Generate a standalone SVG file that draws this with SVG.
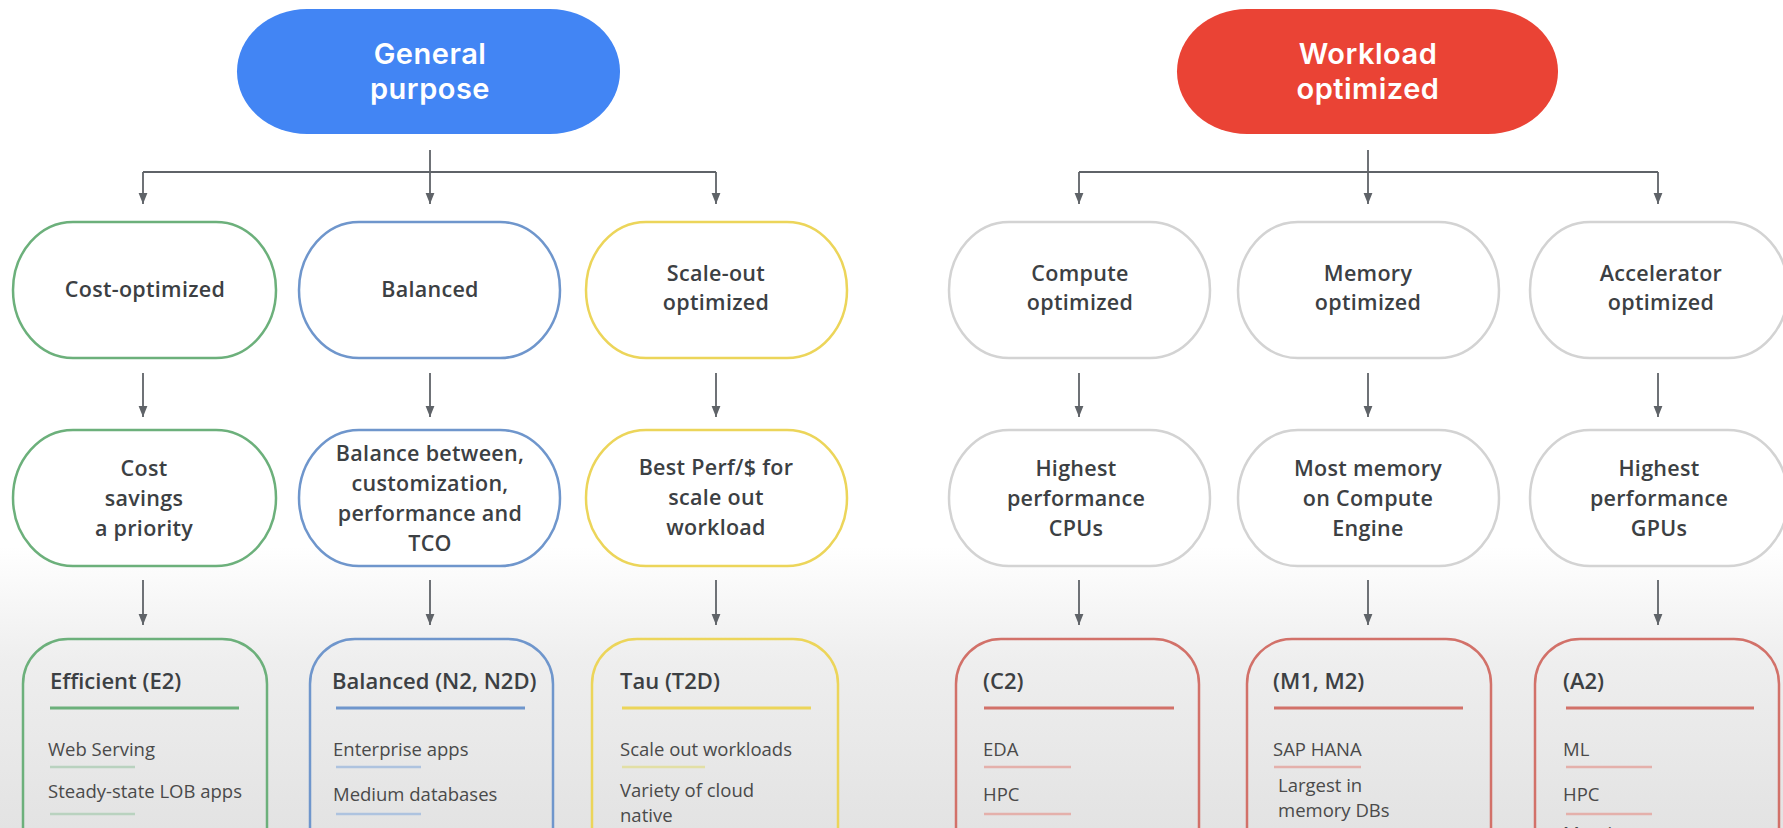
<svg xmlns="http://www.w3.org/2000/svg" width="1783" height="828" viewBox="0 0 1783 828">
<defs>
  <linearGradient id="bg" x1="0" y1="0" x2="0" y2="828" gradientUnits="userSpaceOnUse">
    <stop offset="0" stop-color="#ffffff"/>
    <stop offset="0.66" stop-color="#ffffff"/>
    <stop offset="0.8" stop-color="#eeeeee"/>
    <stop offset="1" stop-color="#e3e3e3"/>
  </linearGradient>
  <marker id="arr" viewBox="0 0 10 10" refX="10" refY="5" markerWidth="11" markerHeight="11" markerUnits="userSpaceOnUse" orient="auto">
    <path d="M0,1 L10,5 L0,9 z" fill="#5f6368"/>
  </marker>
  <style>
    .t { font-family: "Open Sans", "Liberation Sans", sans-serif; fill: #3c4043; text-anchor: middle; }
    .hd { font-family: Inter, "Open Sans", sans-serif; font-size: 29px; font-weight: 600; fill: #ffffff; letter-spacing: 0.5px; }
    .n { font-size: 21.5px; font-weight: 600; letter-spacing: 0.3px; }
    .ttl { font-family: "Open Sans", "Liberation Sans", sans-serif; font-size: 22px; font-weight: 600; fill: #3c4043; }
    .it { font-family: "Open Sans", "Liberation Sans", sans-serif; font-size: 18.5px; fill: #4a4a4a; }
    .node { fill: #ffffff; stroke-width: 2.5; }
    .box { fill: none; stroke-width: 2.5; }
    .g { stroke: #6cb07b; }
    .b { stroke: #6f96cc; }
    .y { stroke: #ecd55a; }
    .gr { stroke: #d3d3d3; }
    .r { stroke: #d27169; }
    .ul { stroke-width: 3; }
    .sl { stroke-width: 2.5; }
    .lg { stroke: #b9d2bf; }
    .lb { stroke: #aec3df; }
    .ly { stroke: #e2dfa5; }
    .lr { stroke: #e4b0ab; }
    .con { fill: none; stroke: #5f6368; stroke-width: 1.8; }
  </style>
</defs>
<rect x="0" y="0" width="1783" height="828" fill="url(#bg)"/>

<g id="connectors">
  <path class="con" d="M430 150 V204" marker-end="url(#arr)"/>
  <path class="con" d="M143 172 H716"/>
  <path class="con" d="M143 172 V204" marker-end="url(#arr)"/>
  <path class="con" d="M716 172 V204" marker-end="url(#arr)"/>
  <path class="con" d="M1368 150 V204" marker-end="url(#arr)"/>
  <path class="con" d="M1079 172 H1658"/>
  <path class="con" d="M1079 172 V204" marker-end="url(#arr)"/>
  <path class="con" d="M1658 172 V204" marker-end="url(#arr)"/>
  <path class="con" d="M143 373 V417" marker-end="url(#arr)"/>
  <path class="con" d="M430 373 V417" marker-end="url(#arr)"/>
  <path class="con" d="M716 373 V417" marker-end="url(#arr)"/>
  <path class="con" d="M1079 373 V417" marker-end="url(#arr)"/>
  <path class="con" d="M1368 373 V417" marker-end="url(#arr)"/>
  <path class="con" d="M1658 373 V417" marker-end="url(#arr)"/>
  <path class="con" d="M143 580 V625" marker-end="url(#arr)"/>
  <path class="con" d="M430 580 V625" marker-end="url(#arr)"/>
  <path class="con" d="M716 580 V625" marker-end="url(#arr)"/>
  <path class="con" d="M1079 580 V625" marker-end="url(#arr)"/>
  <path class="con" d="M1368 580 V625" marker-end="url(#arr)"/>
  <path class="con" d="M1658 580 V625" marker-end="url(#arr)"/>
</g>

<!-- Top headers -->
<g id="general-purpose">
  <rect x="237" y="9" width="383" height="125" rx="70" ry="62.5" fill="#4285f4"/>
  <text class="t hd" x="430" y="64">General</text>
  <text class="t hd" x="430" y="99">purpose</text>
</g>
<g id="workload-optimized">
  <rect class="hdr" x="1177" y="9" width="381" height="125" rx="70" ry="62.5" fill="#ea4335"/>
  <text class="t hd" x="1368" y="64">Workload</text>
  <text class="t hd" x="1368" y="99">optimized</text>
</g>

<!-- Row 1 -->
<g id="cost-optimized">
  <rect class="node g" x="13" y="222" width="263" height="136" rx="60" ry="68"/>
  <text class="t n" x="145" y="297">Cost-optimized</text>
</g>
<g id="balanced">
  <rect class="node b" x="299" y="222" width="261" height="136" rx="60" ry="68"/>
  <text class="t n" x="430" y="297">Balanced</text>
</g>
<g id="scale-out-optimized">
  <rect class="node y" x="586" y="222" width="261" height="136" rx="60" ry="68"/>
  <text class="t n" x="716" y="281">Scale-out</text>
  <text class="t n" x="716" y="310">optimized</text>
</g>
<g id="compute-optimized">
  <rect class="node gr" x="949" y="222" width="261" height="136" rx="60" ry="68"/>
  <text class="t n" x="1080" y="281">Compute</text>
  <text class="t n" x="1080" y="310">optimized</text>
</g>
<g id="memory-optimized">
  <rect class="node gr" x="1238" y="222" width="261" height="136" rx="60" ry="68"/>
  <text class="t n" x="1368" y="281">Memory</text>
  <text class="t n" x="1368" y="310">optimized</text>
</g>
<g id="accelerator-optimized">
  <rect class="node gr" x="1530" y="222" width="258" height="136" rx="60" ry="68"/>
  <text class="t n" x="1661" y="281">Accelerator</text>
  <text class="t n" x="1661" y="310">optimized</text>
</g>

<!-- Row 2 -->
<g id="cost-savings">
  <rect class="node g" x="13" y="430" width="263" height="136" rx="60" ry="68"/>
  <text class="t n" x="144" y="476">Cost</text>
  <text class="t n" x="144" y="506">savings</text>
  <text class="t n" x="144" y="536">a priority</text>
</g>
<g id="balance-between">
  <rect class="node b" x="299" y="430" width="261" height="136" rx="60" ry="68"/>
  <text class="t n" x="430" y="461">Balance between,</text>
  <text class="t n" x="430" y="491">customization,</text>
  <text class="t n" x="430" y="521">performance and</text>
  <text class="t n" x="430" y="551">TCO</text>
</g>
<g id="best-perf">
  <rect class="node y" x="586" y="430" width="261" height="136" rx="60" ry="68"/>
  <text class="t n" x="716" y="475">Best Perf/$ for</text>
  <text class="t n" x="716" y="505">scale out</text>
  <text class="t n" x="716" y="535">workload</text>
</g>
<g id="highest-cpus">
  <rect class="node gr" x="949" y="430" width="261" height="136" rx="60" ry="68"/>
  <text class="t n" x="1076" y="476">Highest</text>
  <text class="t n" x="1076" y="506">performance</text>
  <text class="t n" x="1076" y="536">CPUs</text>
</g>
<g id="most-memory">
  <rect class="node gr" x="1238" y="430" width="261" height="136" rx="60" ry="68"/>
  <text class="t n" x="1368" y="476">Most memory</text>
  <text class="t n" x="1368" y="506">on  Compute</text>
  <text class="t n" x="1368" y="536">Engine</text>
</g>
<g id="highest-gpus">
  <rect class="node gr" x="1530" y="430" width="258" height="136" rx="60" ry="68"/>
  <text class="t n" x="1659" y="476">Highest</text>
  <text class="t n" x="1659" y="506">performance</text>
  <text class="t n" x="1659" y="536">GPUs</text>
</g>

<!-- Row 3 -->
<g id="efficient-e2">
  <rect class="box g" x="23" y="639" width="244" height="260" rx="45" ry="45"/>
  <text class="ttl" x="50" y="689">Efficient (E2)</text>
  <line class="ul g" x1="50" y1="708" x2="239" y2="708"/>
  <text class="it" x="48" y="756">Web Serving</text>
  <line class="sl lg" x1="50" y1="767" x2="135" y2="767"/>
  <text class="it" x="48" y="798">Steady-state LOB apps</text>
  <line class="sl lg" x1="50" y1="814" x2="135" y2="814"/>
</g>
<g id="balanced-n2">
  <rect class="box b" x="310" y="639" width="243" height="260" rx="45" ry="45"/>
  <text class="ttl" x="332" y="689">Balanced (N2, N2D)</text>
  <line class="ul b" x1="336" y1="708" x2="525" y2="708"/>
  <text class="it" x="333" y="756">Enterprise apps</text>
  <line class="sl lb" x1="336" y1="767" x2="421" y2="767"/>
  <text class="it" x="333" y="801">Medium databases</text>
  <line class="sl lb" x1="336" y1="814" x2="421" y2="814"/>
</g>
<g id="tau-t2d">
  <rect class="box y" x="592" y="639" width="246" height="260" rx="45" ry="45"/>
  <text class="ttl" x="620" y="689">Tau (T2D)</text>
  <line class="ul y" x1="622" y1="708" x2="811" y2="708"/>
  <text class="it" x="620" y="756">Scale out workloads</text>
  <line class="sl ly" x1="622" y1="767" x2="705" y2="767"/>
  <text class="it" x="620" y="797">Variety of cloud</text>
  <text class="it" x="620" y="822">native</text>
</g>
<g id="c2">
  <rect class="box r" x="956" y="639" width="243" height="260" rx="45" ry="45"/>
  <text class="ttl" x="983" y="689">(C2)</text>
  <line class="ul r" x1="984" y1="708" x2="1174" y2="708"/>
  <text class="it" x="983" y="756">EDA</text>
  <line class="sl lr" x1="984" y1="767" x2="1071" y2="767"/>
  <text class="it" x="983" y="801">HPC</text>
  <line class="sl lr" x1="984" y1="814" x2="1071" y2="814"/>
</g>
<g id="m1-m2">
  <rect class="box r" x="1247" y="639" width="244" height="260" rx="45" ry="45"/>
  <text class="ttl" x="1273" y="689">(M1, M2)</text>
  <line class="ul r" x1="1274" y1="708" x2="1463" y2="708"/>
  <text class="it" x="1273" y="756">SAP HANA</text>
  <line class="sl lr" x1="1274" y1="767" x2="1361" y2="767"/>
  <text class="it" x="1278" y="792">Largest in</text>
  <text class="it" x="1278" y="817">memory DBs</text>
</g>
<g id="a2">
  <rect class="box r" x="1535" y="639" width="244" height="260" rx="45" ry="45"/>
  <text class="ttl" x="1563" y="689">(A2)</text>
  <line class="ul r" x1="1566" y1="708" x2="1754" y2="708"/>
  <text class="it" x="1563" y="756">ML</text>
  <line class="sl lr" x1="1566" y1="767" x2="1652" y2="767"/>
  <text class="it" x="1563" y="801">HPC</text>
  <line class="sl lr" x1="1566" y1="814" x2="1652" y2="814"/>
  <text class="it" x="1563" y="840">Massive</text>
</g>
</svg>
